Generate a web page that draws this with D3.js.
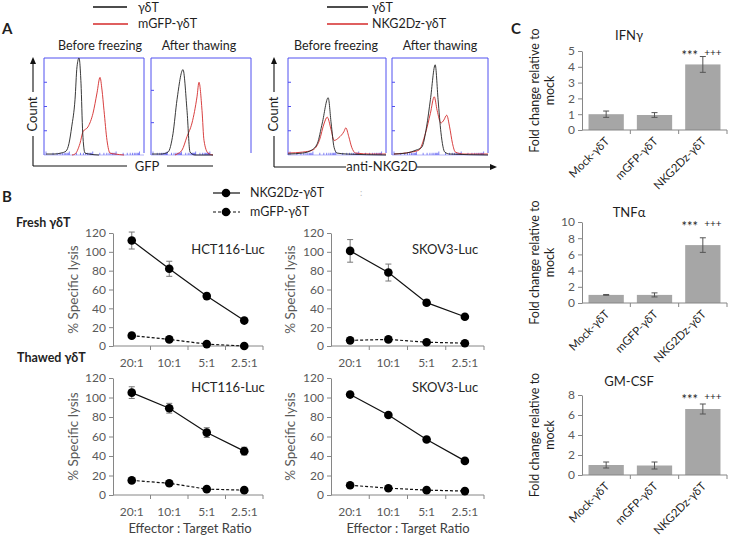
<!DOCTYPE html>
<html><head><meta charset="utf-8">
<script src="https://cdn.jsdelivr.net/npm/d3@7"></script>
<style>
body{margin:0;background:#fff}
svg{display:block}
text{font-family:Lato,"Open Sans",sans-serif}
</style>
</head><body>
<svg id="c" width="729" height="536"></svg>
<script>
// ---------------- DATA ----------------
// Panel A: flow histograms, [x (% of plot width), count (% of plot height)]
const gfpBeforeCtrl = [[2,1],[10,1],[17,2],[22,4],[25,12],[27.7,29],[31,57],[33,91],[35,100],[37,74],[38.7,23],[41,2],[45,1],[55,0]];
const gfpBeforeMgfp = [[28,0],[31,1],[36,12],[39,24],[44,29],[49,43],[53,64],[56,80],[58,67],[60,46],[63,15],[66,2],[71,1],[80,0]];
const gfpAfterCtrl  = [[1,1],[10,1],[17,3],[22,22],[26,57],[32,88],[36,46],[39,3],[44,0],[62,0]];
const gfpAfterMgfp  = [[24,0],[26,1],[31,5],[36,19],[41,33],[46,60],[48,75],[51,46],[53,15],[57,2],[62,0]];
const nkgBeforeCtrl = [[0,1],[15,2],[24,5],[30,12],[35,33],[41,59],[44,33],[47,8],[50,2],[60,1],[100,0]];
const nkgBeforeCar  = [[0,2],[15,3],[25,5],[32,15],[37,33],[40,39],[44,26],[47,15],[52,18],[57,24],[59,28],[62,19],[65,8],[69,2],[85,1],[100,1]];
const nkgAfterCtrl  = [[2,1],[15,2],[25,5],[31,8],[36,29],[40,57],[45,93],[48,57],[51,23],[55,3],[60,1],[100,0]];
const nkgAfterCar   = [[2,1],[20,3],[28,5],[35,23],[40,43],[44,60],[47,46],[51,33],[54,36],[57,41],[60,29],[63,12],[66,3],[75,1],[100,1]];

// Panel B: cytotoxicity
const ratios = ["20:1","10:1","5:1","2.5:1"];
const lysisTicks = [0,20,40,60,80,100,120];
const freshHctCar = [112,82,53,27], freshHctCarErr = [9,8,3,1.5];
const freshHctGfp = [11,7,2,0],     freshHctGfpErr = [0,0,0,0];
const freshSkoCar = [101,78,46,31], freshSkoCarErr = [12,9,3,1];
const freshSkoGfp = [6,7,4,3],      freshSkoGfpErr = [0,0,0,0];
const thawHctCar  = [105,89,64,45], thawHctCarErr  = [6,5,5,4];
const thawHctGfp  = [15,12,6,5],    thawHctGfpErr  = [0,0,0,0];
const thawSkoCar  = [103,82,57,35], thawSkoCarErr  = [0,0,0,0];
const thawSkoGfp  = [10,7,5,4],     thawSkoGfpErr  = [0,0,0,0];

// Panel C: cytokines
const groups = ["Mock-γδT","mGFP-γδT","NKG2Dz-γδT"];
const ifng = [1.0,0.95,4.15],  ifngErr = [0.2,0.15,0.5],  ifngTicks = [0,1,2,3,4,5];
const tnfa = [1.0,1.0,7.15],   tnfaErr = [0.05,0.25,0.9], tnfaTicks = [0,2,4,6,8,10];
const gmcsf = [1.0,0.95,6.6],  gmcsfErr = [0.3,0.35,0.5], gmcsfTicks = [0,2,4,6,8];

// ---------------- DRAW ----------------
const svg = d3.select("#c");
const blue = "#5050f0";
const dark = "#1f1f1f";
const axisCol = "#868686";
const tickTxt = "#595959";

function txt(x,y,s,opt={}){
  const t = svg.append("text").attr("x",x).attr("y",y).text(s)
    .attr("font-size",opt.size||12).attr("fill",opt.fill||dark)
    .attr("text-anchor",opt.anchor||"start");
  if(opt.weight) t.attr("font-weight",opt.weight);
  if(opt.rotate!=null) t.attr("transform",`rotate(${opt.rotate},${x},${y})`);
  if(opt.family) t.attr("font-family",opt.family);
  return t;
}
function ln(x1,y1,x2,y2,col,w,dash){
  const l = svg.append("line").attr("x1",x1).attr("y1",y1).attr("x2",x2).attr("y2",y2)
    .attr("stroke",col||dark).attr("stroke-width",w||1);
  if(dash) l.attr("stroke-dasharray",dash);
  return l;
}

// panel letters
txt(2,34,"A",{size:15,weight:"bold",family:"Arial, Liberation Sans, sans-serif"});
txt(2,202,"B",{size:15,weight:"bold",family:"Arial, Liberation Sans, sans-serif"});
txt(511,34,"C",{size:15,weight:"bold",family:"Arial, Liberation Sans, sans-serif"});

// ---------- Panel A ----------
function histPlot(x0,x1,axisEnd,yTop,yBot,nT,ctrl,mod){
  const x = d3.scaleLinear().domain([0,100]).range([x0,x1]);
  const y = d3.scaleLinear().domain([0,100]).range([yBot,yTop]);
  const g = svg.append("g");
  g.append("path").attr("d",`M${x0},${yBot}V${yTop}H${x1}V${yBot-2}`)
    .attr("fill","none").attr("stroke",blue).attr("stroke-width",1);
  g.append("line").attr("x1",x0).attr("x2",axisEnd).attr("y1",yBot).attr("y2",yBot)
    .attr("stroke",blue).attr("stroke-width",0.6).attr("opacity",0.7);
  for(let i=1;i<nT;i++){
    const yy = yBot-(yBot-yTop)*i/nT;
    g.append("line").attr("x1",x0).attr("x2",x0+3).attr("y1",yy).attr("y2",yy).attr("stroke",blue);
  }
  const dw = (axisEnd-x0-3)/4.15;
  for(let d=0; d<5; d++) for(let k=1;k<10;k++){
    const xx = x0+2+dw*(d+Math.log10(k));
    if(xx>axisEnd) continue;
    g.append("line").attr("x1",xx).attr("x2",xx).attr("y1",yBot).attr("y2",yBot-(k===1?3.5:2.2))
      .attr("stroke",blue).attr("stroke-width",0.7);
  }
  const line = d3.line().x(d=>x(d[0])).y(d=>y(d[1])).curve(d3.curveMonotoneX);
  g.append("path").datum(mod).attr("d",line).attr("fill","none").attr("stroke","#d42a2a").attr("stroke-width",0.9);
  g.append("path").datum(ctrl).attr("d",line).attr("fill","none").attr("stroke","#222").attr("stroke-width",0.9);
}
histPlot(44,144,144,58,155,4,gfpBeforeCtrl,gfpBeforeMgfp);
histPlot(151,251,213,58,155,3,gfpAfterCtrl,gfpAfterMgfp);
histPlot(288,386,386,58,155,4,nkgBeforeCtrl,nkgBeforeCar);
histPlot(392,488,488,58,155,4,nkgAfterCtrl,nkgAfterCar);

// A legends
ln(93,7,127,7,"#111",1.3); txt(138,12,"γδT",{size:12.5});
ln(93,24,128,24,"#d42a2a",1.3); txt(138,28,"mGFP-γδT",{size:12.5});
ln(327,7,368,7,"#111",1.3); txt(372,12,"γδT",{size:12.5});
ln(327,24,368,24,"#d42a2a",1.3); txt(372,28,"NKG2Dz-γδT",{size:12.5});
// A titles
txt(100,50,"Before freezing",{size:12.5,anchor:"middle"});
txt(199,50,"After thawing",{size:12.5,anchor:"middle"});
txt(336,50,"Before freezing",{size:12.5,anchor:"middle"});
txt(440,50,"After thawing",{size:12.5,anchor:"middle"});
// A axis arrows
function arrowUp(x,y){ svg.append("path").attr("d",`M${x},${y}l-3,7h6z`).attr("fill","#111"); }
ln(33,62,33,92,"#111",1.1); ln(33,136,33,166,"#111",1.1); arrowUp(33,57);
txt(37,114,"Count",{size:13,anchor:"middle",rotate:-90});
ln(33,166,127,166,"#111",1.1); ln(167,166,213,166,"#111",1.1);
txt(147,171,"GFP",{size:13,anchor:"middle"});
ln(274,62,274,92,"#111",1.1); ln(274,136,274,167,"#111",1.1); arrowUp(274,57);
txt(278,114,"Count",{size:13,anchor:"middle",rotate:-90});
ln(274,167,346,167,"#111",1.1); ln(417,167,492,167,"#111",1.1);
svg.append("path").attr("d","M497,167l-7,-3v6z").attr("fill","#111");
txt(382,171,"anti-NKG2D",{size:13,anchor:"middle"});

// ---------- Panel B ----------
function linePlot(x0,x1,yTop,yBot,title,titleX,titleY,car,carErr,gfp,gfpErr,ylabX){
  const x = d3.scaleBand().domain(ratios).range([x0,x1]);
  const y = d3.scaleLinear().domain([0,120]).range([yBot,yTop]);
  const g = svg.append("g");
  const ya = g.append("g").attr("transform",`translate(${x0},0)`)
    .call(d3.axisLeft(y).tickValues(lysisTicks).tickSize(4).tickSizeOuter(0).tickPadding(3));
  ya.select(".domain").attr("stroke",axisCol);
  ya.selectAll(".tick line").attr("stroke",axisCol);
  ya.selectAll(".tick text").attr("fill",tickTxt).attr("font-size",12).attr("font-family","Lato,sans-serif");
  g.append("line").attr("x1",x0).attr("x2",x1).attr("y1",yBot).attr("y2",yBot).attr("stroke",axisCol);
  ratios.forEach((r,i)=>{
    const bx = x(r)+x.bandwidth();
    g.append("line").attr("x1",bx).attr("x2",bx).attr("y1",yBot).attr("y2",yBot+4).attr("stroke",axisCol);
    g.append("text").attr("x",x(r)+x.bandwidth()/2).attr("y",yBot+21).attr("text-anchor","middle")
      .attr("font-size",12).attr("fill",tickTxt).text(r);
  });
  const cx = r=>x(r)+x.bandwidth()/2;
  function series(vals,errs,dash){
    const pts = ratios.map((r,i)=>({r,v:vals[i],e:errs[i]}));
    pts.forEach(p=>{ if(p.e>0){
      g.append("line").attr("x1",cx(p.r)).attr("x2",cx(p.r)).attr("y1",y(p.v-p.e)).attr("y2",y(p.v+p.e)).attr("stroke","#777");
      [p.v-p.e,p.v+p.e].forEach(v=>g.append("line").attr("x1",cx(p.r)-3).attr("x2",cx(p.r)+3).attr("y1",y(v)).attr("y2",y(v)).attr("stroke","#777"));
    }});
    const l = g.append("path").datum(pts).attr("d",d3.line().x(p=>cx(p.r)).y(p=>y(p.v)))
      .attr("fill","none").attr("stroke","#111").attr("stroke-width",1.2);
    if(dash) l.attr("stroke-dasharray",dash);
    g.selectAll(null).data(pts).enter().append("circle").attr("cx",p=>cx(p.r)).attr("cy",p=>y(p.v)).attr("r",4.3).attr("fill","#000");
  }
  series(gfp,gfpErr,"3,2");
  series(car,carErr,null);
  txt(titleX,titleY,title,{size:13,anchor:"middle",fill:"#262626"});
  txt(ylabX,(yTop+yBot)/2,"% Specific lysis",{size:13.5,anchor:"middle",rotate:-90,fill:tickTxt});
}
linePlot(113,263,233,346,"HCT116-Luc",228,254,freshHctCar,freshHctCarErr,freshHctGfp,freshHctGfpErr,78);
linePlot(331,484,233,346,"SKOV3-Luc",445,254,freshSkoCar,freshSkoCarErr,freshSkoGfp,freshSkoGfpErr,295);
linePlot(113,263,378,495,"HCT116-Luc",228,392,thawHctCar,thawHctCarErr,thawHctGfp,thawHctGfpErr,78);
linePlot(331,484,378,495,"SKOV3-Luc",445,392,thawSkoCar,thawSkoCarErr,thawSkoGfp,thawSkoGfpErr,295);
txt(190,533,"Effector : Target Ratio",{size:13,anchor:"middle",fill:"#404040"});
txt(408,533,"Effector : Target Ratio",{size:13,anchor:"middle",fill:"#404040"});
txt(16,227,"Fresh γδT",{size:12.5,weight:"bold"});
txt(17,362,"Thawed γδT",{size:12.5,weight:"bold"});
// B legend
ln(213,193,240,193,"#111",1.2); svg.append("circle").attr("cx",226).attr("cy",193).attr("r",4.3);
txt(250,197,"NKG2Dz-γδT",{size:12.5});
ln(213,212,240,212,"#111",1.2,"3,2"); svg.append("circle").attr("cx",226).attr("cy",212).attr("r",4.3);
txt(250,216,"mGFP-γδT",{size:12.5});
txt(360,196,":",{size:9,fill:"#bbb"});

// ---------- Panel C ----------
function barPlot(yTop,yBot,ticks,title,titleY,vals,errs){
  const x0=582,x1=727;
  const x = d3.scaleBand().domain(groups).range([x0,x1]);
  const y = d3.scaleLinear().domain([0,d3.max(ticks)]).range([yBot,yTop]);
  const g = svg.append("g");
  const ya = g.append("g").attr("transform",`translate(${x0},0)`)
    .call(d3.axisLeft(y).tickValues(ticks).tickFormat(d3.format("d")).tickSize(4).tickSizeOuter(0).tickPadding(3));
  ya.select(".domain").attr("stroke",axisCol);
  ya.selectAll(".tick line").attr("stroke",axisCol);
  ya.selectAll(".tick text").attr("fill",tickTxt).attr("font-size",12).attr("font-family","Lato,sans-serif");
  const bw = x.bandwidth()*0.73;
  groups.forEach((gname,i)=>{
    const c = x(gname)+x.bandwidth()/2;
    g.append("rect").attr("x",c-bw/2).attr("y",y(vals[i])).attr("width",bw).attr("height",yBot-y(vals[i])).attr("fill","#a6a6a6");
    const e = errs[i];
    g.append("line").attr("x1",c).attr("x2",c).attr("y1",y(vals[i]-e)).attr("y2",y(vals[i]+e)).attr("stroke","#555");
    [vals[i]-e,vals[i]+e].forEach(v=>g.append("line").attr("x1",c-3).attr("x2",c+3).attr("y1",y(v)).attr("y2",y(v)).attr("stroke","#555"));
    const bx = x(gname)+x.bandwidth();
    g.append("line").attr("x1",bx).attr("x2",bx).attr("y1",yBot).attr("y2",yBot+4).attr("stroke",axisCol);
    g.append("text").attr("x",c+4).attr("y",yBot+12).attr("text-anchor","end").attr("font-size",11.5)
      .attr("fill",dark).attr("transform",`rotate(-45,${c+4},${yBot+12})`).text(gname);
  });
  g.append("line").attr("x1",x0).attr("x2",x1).attr("y1",yBot).attr("y2",yBot).attr("stroke",axisCol);
  const c3 = x(groups[2])+x.bandwidth()/2;
  txt(c3-13,y(d3.max(ticks))+9,"***",{size:13,anchor:"middle"});
  txt(c3+10,y(d3.max(ticks))+5,"+++",{size:10,anchor:"middle"});
  txt(629,titleY,title,{size:13,anchor:"middle"});
  const cy=(yTop+yBot)/2;
  txt(539,cy,"Fold change relative to",{size:12.5,anchor:"middle",rotate:-90});
  txt(554,cy,"mock",{size:12.5,anchor:"middle",rotate:-90});
}
barPlot(51,130,ifngTicks,"IFNγ",40,ifng,ifngErr);
barPlot(222,303,tnfaTicks,"TNFα",217,tnfa,tnfaErr);
barPlot(395,475,gmcsfTicks,"GM-CSF",386,gmcsf,gmcsfErr);
</script>
</body></html>
